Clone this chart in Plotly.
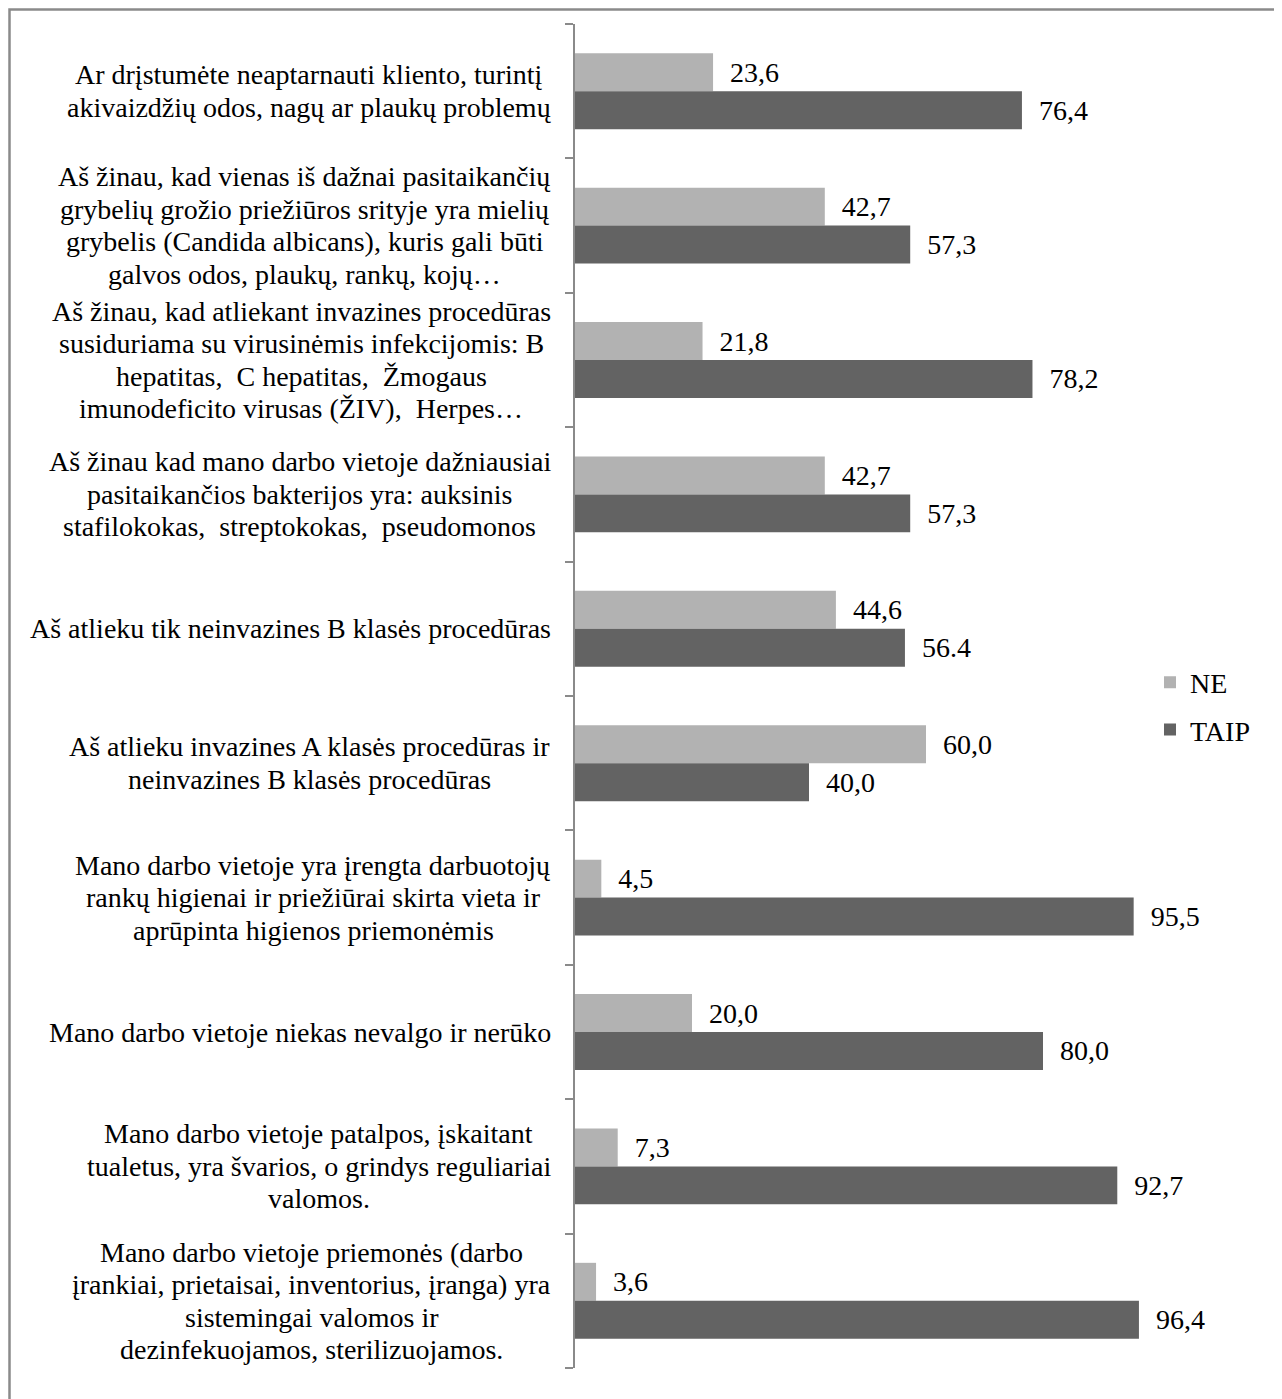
import plotly.graph_objects as go

categories = [
    "Ar drįstumėte neaptarnauti kliento, turintį<br>akivaizdžių odos, nagų ar plaukų problemų",
    "Aš žinau, kad vienas iš dažnai pasitaikančių<br>grybelių grožio priežiūros srityje yra mielių<br>grybelis (Candida albicans), kuris gali būti<br>galvos odos, plaukų, rankų, kojų…",
    "Aš žinau, kad atliekant invazines procedūras<br>susiduriama su virusinėmis infekcijomis: B<br>hepatitas,\u00a0 C hepatitas,\u00a0 Žmogaus<br>imunodeficito virusas (ŽIV),\u00a0 Herpes…",
    "Aš žinau kad mano darbo vietoje dažniausiai<br>pasitaikančios bakterijos yra: auksinis<br>stafilokokas,\u00a0 streptokokas,\u00a0 pseudomonos",
    "Aš atlieku tik neinvazines B klasės procedūras",
    "Aš atlieku invazines A klasės procedūras ir<br>neinvazines B klasės procedūras",
    "Mano darbo vietoje yra įrengta darbuotojų<br>rankų higienai ir priežiūrai skirta vieta ir<br>aprūpinta higienos priemonėmis",
    "Mano darbo vietoje niekas nevalgo ir nerūko",
    "Mano darbo vietoje patalpos, įskaitant<br>tualetus, yra švarios, o grindys reguliariai<br>valomos.",
    "Mano darbo vietoje priemonės (darbo<br>įrankiai, prietaisai, inventorius, įranga) yra<br>sistemingai valomos ir<br>dezinfekuojamos, sterilizuojamos.",
]

ne_values = [23.6, 42.7, 21.8, 42.7, 44.6, 60.0, 4.5, 20.0, 7.3, 3.6]
taip_values = [76.4, 57.3, 78.2, 57.3, 56.4, 40.0, 95.5, 80.0, 92.7, 96.4]
ne_labels = ["23,6", "42,7", "21,8", "42,7", "44,6", "60,0", "4,5", "20,0", "7,3", "3,6"]
taip_labels = ["76,4", "57,3", "78,2", "57,3", "56.4", "40,0", "95,5", "80,0", "92,7", "96,4"]

series_names = ["NE", "TAIP"]
colors = ["#b2b2b2", "#636363"]

FONT = "Liberation Serif"
FS = 28
LINE_H = 32.5

# page body margin offset (figure is drawn 8px in from the page corner)
OFF = 8
W, H = 1282, 1399
PL, PR = 575 - OFF, 1160 - OFF
PT, PB = 24 - OFF, 1368 - OFF

# Times / Liberation Serif advance widths (1/1000 em) for centring label blocks
_LOWER = dict(a=444, b=500, c=444, d=500, e=444, f=333, g=500, h=500, i=278, j=278,
              k=500, l=278, m=778, n=500, o=500, p=500, q=500, r=333, s=389, t=278,
              u=500, v=500, w=722, x=500, y=500, z=444)
_UPPER = dict(A=722, B=667, C=667, D=722, E=611, F=556, G=722, H=722, I=333, J=389,
              K=722, L=611, M=889, N=722, O=722, P=556, Q=722, R=667, S=556, T=611,
              U=722, V=722, W=944, X=722, Y=722, Z=611)
_OTHER = {" ": 250, "\u00a0": 250, ",": 250, ".": 250, ":": 278, "(": 333, ")": 333,
          "…": 1000}
_BASE = {"ą": "a", "č": "c", "ę": "e", "ė": "e", "į": "i", "š": "s", "ų": "u", "ū": "u",
         "ž": "z", "Š": "S", "Ž": "Z", "Ą": "A", "Č": "C", "Ė": "E", "Į": "I", "Ų": "U",
         "Ū": "U", "Ę": "E"}


def text_width(s, size):
    tot = 0
    for ch in s:
        ch = _BASE.get(ch, ch)
        if ch in _LOWER:
            tot += _LOWER[ch]
        elif ch in _UPPER:
            tot += _UPPER[ch]
        else:
            tot += _OTHER.get(ch, 500)
    return tot * size / 1000.0


cat_idx = list(range(len(categories)))

fig = go.Figure()
for name, vals, labs, col in zip(series_names, [ne_values, taip_values],
                                 [ne_labels, taip_labels], colors):
    fig.add_trace(go.Bar(
        name=name, legendgroup=name,
        y=cat_idx, x=vals, orientation="h",
        marker=dict(color=col, line=dict(width=0)),
        text=labs, texttemplate="\u00a0\u00a0%{text}",
        textposition="outside",
        outsidetextfont=dict(family=FONT, size=FS, color="#000000"),
        cliponaxis=False,
        hoverinfo="skip",
    ))

pw = PR - PL
ph = PB - PT


def px_x(p):
    return (p - PL) / pw


def px_y(p):
    return (PB - p) / ph


LABEL_RIGHT = 551 - OFF
for i, cat in enumerate(categories):
    lines = cat.split("<br>")
    n = len(lines)
    block_w = max(text_width(ln, FS) for ln in lines)
    cx = LABEL_RIGHT - block_w / 2.0
    for j, ln in enumerate(lines):
        fig.add_annotation(
            x=px_x(cx), xref="paper", y=i, yref="y",
            text=ln, showarrow=False, xanchor="center", yanchor="middle",
            yshift=((n - 1) / 2.0 - j) * LINE_H,
            font=dict(family=FONT, size=FS, color="#000000"),
        )

fig.add_shape(type="rect", xref="paper", yref="paper",
              x0=px_x(1.5), x1=px_x(1276 - OFF), y0=px_y(1430), y1=px_y(1.5),
              line=dict(color="#8a8a8a", width=2.5), fillcolor="rgba(0,0,0,0)",
              layer="below")

fig.update_layout(
    width=W, height=H,
    margin=dict(l=PL, r=W - PR, t=PT, b=H - PB, pad=0),
    paper_bgcolor="white", plot_bgcolor="white",
    barmode="group", bargap=0.435, bargroupgap=0,
    font=dict(family=FONT, size=FS, color="#000000"),
    showlegend=True,
    legend=dict(x=px_x(1150 - OFF), y=px_y(706 - OFF), xanchor="left", yanchor="middle",
                traceorder="grouped", tracegroupgap=8,
                font=dict(family=FONT, size=FS, color="#000000"),
                bgcolor="rgba(0,0,0,0)"),
    xaxis=dict(range=[0, 100], visible=False, fixedrange=True),
    yaxis=dict(range=[len(categories) - 0.5, -0.5], type="linear",
               showticklabels=False, showgrid=False, zeroline=False,
               showline=True, linecolor="#8a8a8a", linewidth=1.5,
               ticks="outside", ticklen=8, tickcolor="#8a8a8a", tickwidth=1.5,
               tickmode="array",
               tickvals=[i - 0.5 for i in range(len(categories) + 1)],
               fixedrange=True),
)

fig.write_html("out.html")
